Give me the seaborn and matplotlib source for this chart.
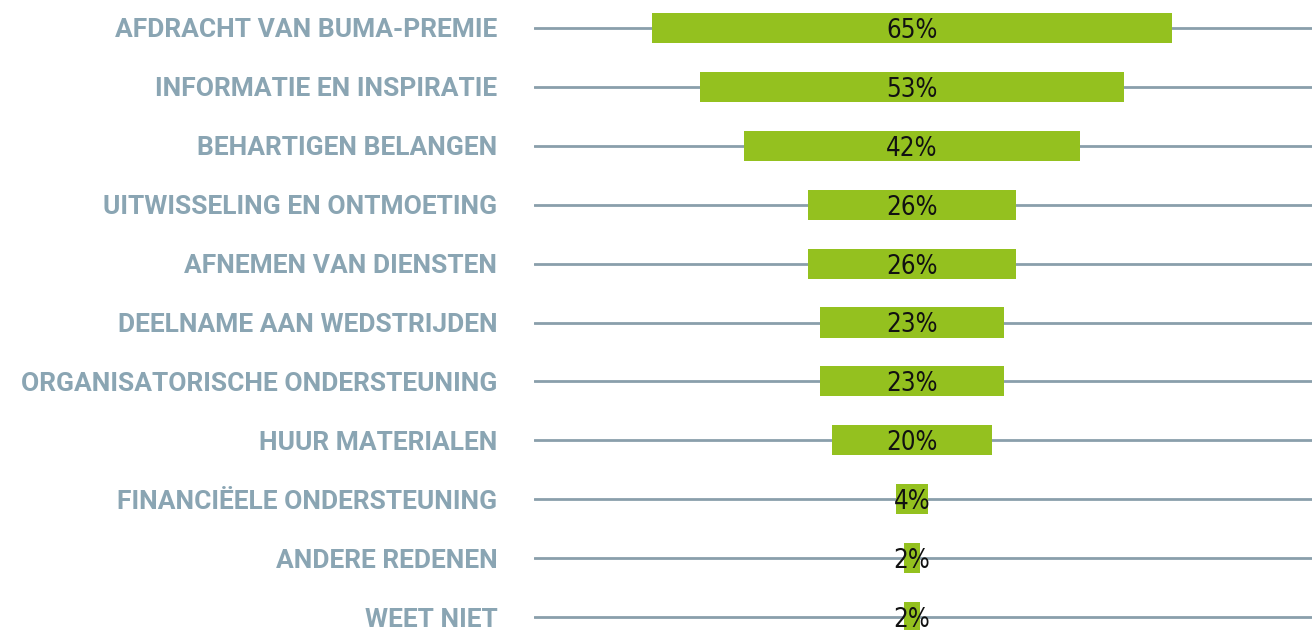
import matplotlib
matplotlib.use("Agg")
import matplotlib.pyplot as plt
import seaborn as sns
import pandas as pd

categories = [
    "AFDRACHT VAN BUMA-PREMIE",
    "INFORMATIE EN INSPIRATIE",
    "BEHARTIGEN BELANGEN",
    "UITWISSELING EN ONTMOETING",
    "AFNEMEN VAN DIENSTEN",
    "DEELNAME AAN WEDSTRIJDEN",
    "ORGANISATORISCHE ONDERSTEUNING",
    "HUUR MATERIALEN",
    "FINANCIËELE ONDERSTEUNING",
    "ANDERE REDENEN",
    "WEET NIET",
]
percentages = [65, 53, 42, 26, 26, 23, 23, 20, 4, 2, 2]

GREEN = "#94c11f"
LINE = "#8a9fab"
LABEL = "#8aa5b3"

sns.set_style("white")
df = pd.DataFrame({"reden": categories, "pct": percentages})

fig = plt.figure(figsize=(13.12, 6.3), dpi=100)
ax = fig.add_axes([534 / 1312, 0, 1 - 534 / 1312, 1])

sns.barplot(data=df, x="pct", y="reden", orient="h", color=GREEN,
            saturation=1, width=0.51, ax=ax, zorder=3)

# center every bar on zero so the chart reads as a funnel
for patch in ax.patches:
    w = patch.get_width()
    patch.set_x(-w / 2)
    patch.set_edgecolor("none")

for i, v in enumerate(percentages):
    ax.text(0, i + 0.05, f"{v}%", ha="center", va="center",
            fontsize=18.5, color="#111111", zorder=4,
            family="DejaVu Sans", fontstretch="condensed")

for i in range(len(categories)):
    ax.axhline(i, color=LINE, lw=2, zorder=1)

ax.set_xlim(-47.25, 50)
ax.set_ylim(10.22, -0.475)
ax.set_xlabel("")
ax.set_ylabel("")
ax.set_xticks([])
for s in ax.spines.values():
    s.set_visible(False)
ax.tick_params(axis="y", length=0, pad=26.3)
for lab in ax.get_yticklabels():
    lab.set_fontsize(19)
    lab.set_fontweight("bold")
    lab.set_color(LABEL)
    lab.set_family(["Roboto", "DejaVu Sans"])

fig.savefig("out.png", dpi=100)
